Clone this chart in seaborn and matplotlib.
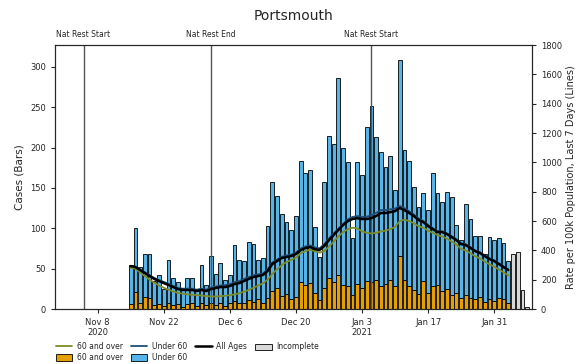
import matplotlib
matplotlib.use('Agg')
import matplotlib.pyplot as plt
import matplotlib.transforms as mtransforms
from matplotlib.lines import Line2D
from matplotlib.patches import Patch
import pandas as pd
import seaborn as sns


# data
dates = pd.date_range('2020-11-15', '2021-02-03')

cases_60_over = [6, 21, 8, 15, 14, 5, 6, 4, 8, 5, 6, 3, 6, 7, 4, 8,
                 5, 8, 5, 7, 4, 7, 10, 8, 7, 11, 9, 12, 8, 14, 22, 26, 16, 19, 12, 15,
                 34, 30, 32, 20, 11, 26, 38, 33, 42, 30, 28,
                 17, 31, 26, 35, 33, 36, 28, 31, 36, 28, 66, 36, 28, 24, 19, 35, 20, 28,
                 30, 22, 25, 18, 20, 14, 18, 14, 12, 15, 9, 12, 10,
                 14, 12, 8]

cases_under_60 = [48, 80, 44, 53, 54, 30, 36, 21, 53, 33, 27, 20, 33, 31, 19, 46,
                  25, 58, 39, 50, 32, 35, 69, 53, 52, 72, 72, 49, 55, 89, 136, 114, 102, 89, 86, 100,
                  150, 139, 140, 82, 54, 132, 176, 172, 244, 170, 154,
                  71, 151, 140, 190, 218, 177, 166, 145, 154, 119, 243, 161, 155, 127, 108, 109, 103, 140,
                  114, 111, 120, 121, 84, 71, 112, 98, 78, 75, 59, 77, 75,
                  74, 70, 52]

incomplete_dates = pd.date_range('2021-02-04', '2021-02-07')
cases_incomplete = [68, 71, 24, 3]

rate_60_over = [280, 275, 250, 225, 200, 180, 160, 145, 132, 120, 110, 105, 100, 98, 95, 92,
                88, 86, 85, 88, 90, 95, 100, 108, 118, 130, 145, 160, 175, 200, 240, 270, 300, 320, 335, 350,
                380, 395, 405, 395, 385, 395, 425, 460, 495, 525, 545,
                555, 550, 530, 520, 515, 520, 530, 535, 545, 560, 600, 610, 600, 585, 565, 555, 535, 520,
                505, 495, 480, 460, 440, 410, 400, 380, 360, 345, 325, 305, 290,
                270, 250, 230]

rate_under_60 = [295, 289, 270, 250, 231, 212, 198, 185, 172, 158, 144, 139, 139, 139, 132, 139,
                 132, 145, 153, 161, 162, 170, 183, 191, 205, 218, 230, 236, 242, 270, 318, 337, 357, 365, 371, 385,
                 412, 427, 434, 420, 414, 442, 481, 515, 548, 580, 612,
                 628, 634, 628, 630, 640, 655, 675, 675, 680, 685, 703, 688, 667, 645, 618, 601, 574, 552,
                 531, 530, 516, 497, 476, 449, 442, 422, 400, 387, 366, 346, 333,
                 312, 290, 270]

rate_all_ages = [293, 286, 266, 245, 225, 205, 191, 177, 164, 150, 136, 130, 130, 130, 123, 130,
                 123, 136, 143, 150, 150, 157, 170, 177, 191, 205, 218, 225, 232, 259, 307, 327, 348, 355, 361, 375,
                 402, 416, 423, 409, 402, 430, 470, 505, 539, 573, 600,
                 614, 620, 614, 614, 620, 634, 655, 655, 661, 668, 689, 675, 655, 634, 607, 593, 566, 545,
                 525, 525, 511, 491, 470, 443, 436, 416, 395, 382, 361, 341, 327,
                 307, 286, 266]

restriction_dates = ['2020-11-05', '2020-12-02', '2021-01-05']
restriction_labels = ['Nat Rest Start', 'Nat Rest End', 'Nat Rest Start']

tick_dates = pd.date_range('2020-11-08', periods=7, freq='14D')
tick_labels = ['Nov 8\n2020', 'Nov 22', 'Dec 6', 'Dec 20', 'Jan 3\n2021', 'Jan 17', 'Jan 31']

col_old = '#E69F00'
col_young = '#56B4E9'
col_old_line = '#7d8c2a'
col_young_line = '#1f4e79'

# ------------------------------------------------------------------------------------------------------
sns.set_style('ticks')
plt.rcParams['font.family'] = ['DejaVu Sans']

fig, ax = plt.subplots(figsize=(5.75, 3.64), dpi=100)
fig.subplots_adjust(left=0.096, right=0.925, top=0.876, bottom=0.151)

# stacked bars
ax.bar(dates, cases_60_over, width=0.8, color=col_old, edgecolor='black', linewidth=0.6)
ax.bar(dates, cases_under_60, width=0.8, bottom=cases_60_over, color=col_young,
       edgecolor='black', linewidth=0.6)
ax.bar(incomplete_dates, cases_incomplete, width=0.8, color='#d9d9d9', edgecolor='black', linewidth=0.6)

# restriction markers
trans = mtransforms.blended_transform_factory(ax.transData, ax.transAxes)
for d, lab in zip(restriction_dates, restriction_labels):
    ax.axvline(pd.Timestamp(d), color='#555555', linewidth=1)
    ax.text(pd.Timestamp(d), 1.025, lab, transform=trans, ha='center', va='bottom', fontsize=5.5)

ax.set_ylim(0, 327)
ax.set_yticks(range(0, 301, 50))
ax.set_ylabel('Cases (Bars)', fontsize=7.5)
ax.set_xticks(tick_dates)
ax.set_xticklabels(tick_labels)
ax.set_xlim(pd.Timestamp('2020-10-30'), pd.Timestamp('2021-02-08'))
ax.tick_params(labelsize=6, length=3)

# rate lines on right axis
ax2 = ax.twinx()
df_rate = pd.DataFrame({'date': dates, '60 and over': rate_60_over,
                        'Under 60': rate_under_60, 'All Ages': rate_all_ages})
sns.lineplot(data=df_rate, x='date', y='60 and over', color=col_old_line, linewidth=1.3, ax=ax2)
sns.lineplot(data=df_rate, x='date', y='Under 60', color=col_young_line, linewidth=1.3, ax=ax2)
sns.lineplot(data=df_rate, x='date', y='All Ages', color='black', linewidth=1.8, ax=ax2)
ax2.set_ylim(0, 1800)
ax2.set_yticks(range(0, 1801, 200))
ax2.set_ylabel('Rate per 100k Population, Last 7 Days (Lines)', fontsize=7, labelpad=3)
ax2.tick_params(labelsize=6, length=3)
ax2.set_xlim(pd.Timestamp('2020-10-30'), pd.Timestamp('2021-02-08'))

ax.set_title('Portsmouth', fontsize=10, pad=18)

handles = [Line2D([], [], color=col_old_line, linewidth=1.3),
           Patch(facecolor=col_old, edgecolor='black', linewidth=0.6),
           Line2D([], [], color=col_young_line, linewidth=1.3),
           Patch(facecolor=col_young, edgecolor='black', linewidth=0.6),
           Line2D([], [], color='black', linewidth=1.8),
           Patch(facecolor='#d9d9d9', edgecolor='black', linewidth=0.6)]
labels = ['60 and over', '60 and over', 'Under 60', 'Under 60', 'All Ages', 'Incomplete']
fig.legend(handles, labels, ncol=4, loc='upper left', bbox_to_anchor=(0.09, 0.07),
           frameon=False, fontsize=5.5, handlelength=2.2, handleheight=0.9, columnspacing=1.0,
           labelspacing=0.25, borderpad=0, handletextpad=0.6)

fig.savefig('out.png', dpi=100)
